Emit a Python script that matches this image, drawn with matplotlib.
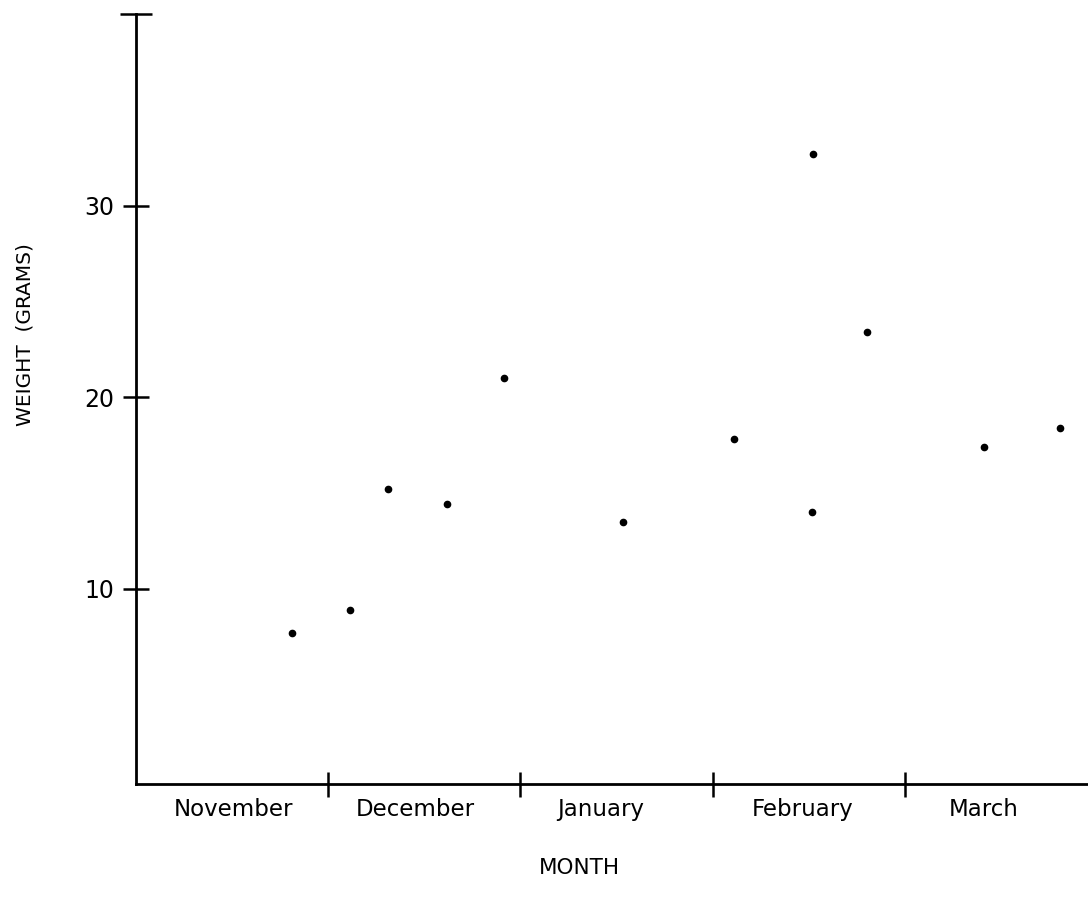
import matplotlib
matplotlib.use("Agg")
import matplotlib.pyplot as plt

# months on the x axis, one unit per month (0 = start of November)
months = ["November", "December", "January", "February", "March"]
month_label_pos = [0.505, 1.451, 2.419, 3.469, 4.411]

# sample points: position in season (months) and weight in grams
season_pos = [0.813, 1.113, 1.311, 1.618, 1.914, 2.535,
              3.112, 3.520, 3.516, 3.804, 4.411, 4.806]
weight_g = [7.7, 8.9, 15.2, 14.4, 21.0, 13.5,
            17.8, 32.7, 14.0, 23.4, 17.4, 18.4]

yticks = [10, 20, 30]


def main():
    plt.rcParams["font.family"] = ["DejaVu Sans"]
    fig = plt.figure(figsize=(10.88, 9.13), dpi=100)
    ax = fig.add_axes([136 / 1088, 1 - 784 / 913, 1 - 136 / 1088, (784 - 14) / 913])

    ax.plot(season_pos, weight_g, "o", color="black", ms=4.5, ls="none")

    ax.set_xlim(0, 4.953)
    ax.set_ylim(-0.2, 40)

    for side in ("top", "right"):
        ax.spines[side].set_visible(False)
    for side in ("left", "bottom"):
        ax.spines[side].set_linewidth(2.0)

    # month boundaries as ticks, names between them
    ax.set_xticks([1, 2, 3, 4])
    ax.set_xticklabels([])
    ax.set_xticks(month_label_pos, minor=True)
    ax.set_xticklabels(months, minor=True, fontsize=16.5)
    ax.tick_params(axis="x", which="major", direction="inout", length=18, width=1.8)
    ax.tick_params(axis="x", which="minor", length=0, pad=10)

    ax.set_yticks(yticks)
    ax.set_yticklabels([str(v) for v in yticks], fontsize=17)
    ax.set_yticks([40], minor=True)
    ax.tick_params(axis="y", which="major", direction="inout", length=19, width=1.8, pad=6)
    ax.tick_params(axis="y", which="minor", direction="inout", length=23, width=1.8)

    ax.set_ylabel("WEIGHT  (GRAMS)", fontsize=14.5)
    ax.yaxis.label.set_va("center")
    ax.yaxis.set_label_coords(25 / 1088, 1 - 335 / 913, transform=fig.transFigure)

    ax.set_xlabel("MONTH", fontsize=15.5)
    ax.xaxis.label.set_va("center")
    ax.xaxis.set_label_coords(579 / 1088, 1 - 868 / 913, transform=fig.transFigure)

    fig.savefig("out.png", dpi=100)


if __name__ == "__main__":
    main()
